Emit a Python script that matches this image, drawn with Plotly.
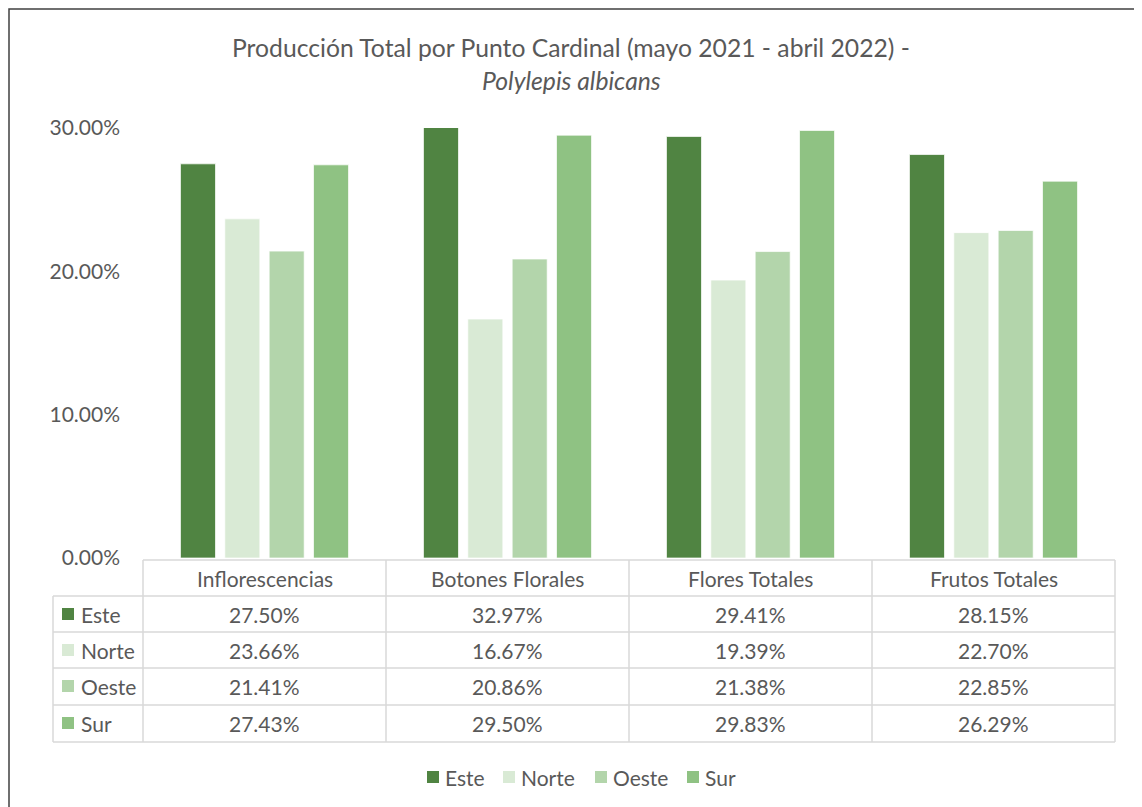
import plotly.graph_objects as go

categories = ["Inflorescencias", "Botones Florales", "Flores Totales", "Frutos Totales"]
series_names = ["Este", "Norte", "Oeste", "Sur"]
este = [27.50, 32.97, 29.41, 28.15]
norte = [23.66, 16.67, 19.39, 22.70]
oeste = [21.41, 20.86, 21.38, 22.85]
sur = [27.43, 29.50, 29.83, 26.29]
series_values = [este, norte, oeste, sur]
colors = ["#508442", "#D9EAD5", "#B3D5AB", "#8FC283"]
y_ticks = [0, 10, 20, 30]
y_tick_labels = ["0.00%", "10.00%", "20.00%", "30.00%"]

OFF = 8  # page body margin
W, H = 1142 - OFF, 807 - OFF
L, R, T, B = 143, 1115, 128, 558  # plot area in page pixels
FONT = "Lato"
TXT = "#595959"
GRID = "#D9D9D9"
FS = 21


def xp(px):
    return (px - L) / (R - L)


def yp(py):
    return (B - py) / (B - T)


fig = go.Figure()
for name, vals, col in zip(series_names, series_values, colors):
    fig.add_trace(go.Bar(
        x=categories, y=vals, name=name,
        marker=dict(color=col, line=dict(color="rgba(255,255,255,0.7)", width=1)),
        showlegend=False, hoverinfo="x+y+name",
    ))

shapes = []
annotations = []

# chart frame
shapes.append(dict(type="rect", xref="paper", yref="paper",
                   x0=xp(9), x1=xp(1140), y0=yp(830), y1=yp(9),
                   line=dict(color="#404040", width=1.5), fillcolor="rgba(0,0,0,0)", layer="below"))

# table grid
row_lines = [596, 632, 668, 705, 742]
shapes.append(dict(type="line", xref="paper", yref="paper", x0=xp(143), x1=xp(1115),
                   y0=yp(560), y1=yp(560), line=dict(color=GRID, width=1.5)))
for ry in row_lines:
    shapes.append(dict(type="line", xref="paper", yref="paper", x0=xp(53), x1=xp(1115),
                       y0=yp(ry), y1=yp(ry), line=dict(color=GRID, width=1.5)))
shapes.append(dict(type="line", xref="paper", yref="paper", x0=xp(53), x1=xp(53),
                   y0=yp(596), y1=yp(742), line=dict(color=GRID, width=1.5)))
for cx in [143, 386, 629, 872, 1115]:
    shapes.append(dict(type="line", xref="paper", yref="paper", x0=xp(cx), x1=xp(cx),
                       y0=yp(560), y1=yp(742), line=dict(color=GRID, width=1.5)))

# header
for c in categories:
    annotations.append(dict(x=c, xref="x", y=yp(578), yref="paper", text=c, showarrow=False,
                            xanchor="center", yanchor="middle",
                            font=dict(family=FONT, size=FS, color=TXT)))

# rows
row_centers = [614, 650, 686, 723]
for i, (name, vals, col) in enumerate(zip(series_names, series_values, colors)):
    cy = row_centers[i]
    shapes.append(dict(type="rect", xref="paper", yref="paper",
                       x0=xp(62), x1=xp(74), y0=yp(cy + 6), y1=yp(cy - 6),
                       fillcolor=col, line=dict(width=0)))
    annotations.append(dict(x=xp(79), xref="paper", y=yp(cy), yref="paper", text=name,
                            showarrow=False, xanchor="left", yanchor="middle",
                            font=dict(family=FONT, size=FS, color=TXT)))
    for c, v in zip(categories, vals):
        annotations.append(dict(x=c, xref="x", y=yp(cy), yref="paper", text=f"{v:.2f}%",
                                showarrow=False, xanchor="center", yanchor="middle",
                                font=dict(family=FONT, size=FS, color=TXT)))

# bottom legend
leg_x = [427, 503, 595, 687]
for name, col, lx in zip(series_names, colors, leg_x):
    shapes.append(dict(type="rect", xref="paper", yref="paper",
                       x0=xp(lx), x1=xp(lx + 12), y0=yp(783), y1=yp(771),
                       fillcolor=col, line=dict(width=0)))
    annotations.append(dict(x=xp(lx + 16), xref="paper", y=yp(777), yref="paper", text=name,
                            showarrow=False, xanchor="left", yanchor="middle",
                            font=dict(family=FONT, size=FS, color=TXT)))

# title
annotations.append(dict(x=xp(571), xref="paper", y=yp(47), yref="paper",
                        text="Producción Total por Punto Cardinal (mayo 2021 - abril 2022) -",
                        showarrow=False, xanchor="center", yanchor="middle",
                        font=dict(family=FONT, size=24.7, color=TXT)))
annotations.append(dict(x=xp(571), xref="paper", y=yp(81), yref="paper",
                        text="<i>Polylepis albicans</i>",
                        showarrow=False, xanchor="center", yanchor="middle",
                        font=dict(family=FONT, size=24.7, color=TXT)))

fig.update_layout(
    width=W, height=H,
    margin=dict(l=L - OFF, r=W - (R - OFF), t=T - OFF, b=H - (B - OFF), pad=0),
    paper_bgcolor="white", plot_bgcolor="white",
    barmode="group", bargap=0.27, bargroupgap=0.21,
    showlegend=False,
    shapes=shapes, annotations=annotations,
    xaxis=dict(showticklabels=False, showgrid=False, zeroline=False, showline=False,
               ticks="", fixedrange=True),
    yaxis=dict(range=[0, 30], tickvals=y_ticks, ticktext=y_tick_labels,
               showgrid=False, zeroline=False, showline=False, ticks="",
               ticklabelstandoff=22,
               tickfont=dict(family=FONT, size=FS, color=TXT), fixedrange=True),
)

fig.write_html("out.html")
